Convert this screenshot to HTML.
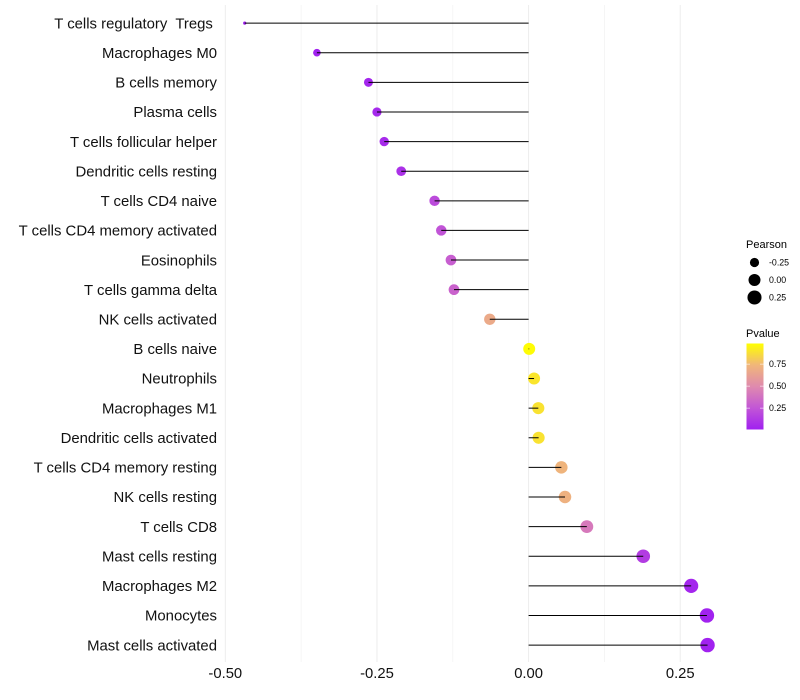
<!DOCTYPE html>
<html>
<head>
<meta charset="utf-8">
<style>
html,body{margin:0;padding:0;background:#fff;width:800px;height:700px;overflow:hidden}
svg{display:block}
text{font-family:"Liberation Sans",sans-serif}
</style>
</head>
<body>
<svg id="chart" width="800" height="700" viewBox="0 0 800 700" xmlns="http://www.w3.org/2000/svg">
<defs>
<linearGradient id="pgrad" x1="0" y1="1" x2="0" y2="0">
<stop offset="0" stop-color="#A020F0"/>
<stop offset="0.25" stop-color="#C256D6"/>
<stop offset="0.5" stop-color="#DF8AAE"/>
<stop offset="0.75" stop-color="#F0B67A"/>
<stop offset="1" stop-color="#FFFF00"/>
</linearGradient>
</defs>
<g id="grid"></g>
<g id="marks"></g>
<g id="ylabels"></g>
<g id="xlabels"></g>
<g id="legend-size">
<text x="746" y="248" font-size="11" fill="#000">Pearson</text>
</g>
<g id="legend-color">
<text x="746" y="337" font-size="11" fill="#000">Pvalue</text>
<rect x="746.5" y="343.5" width="17" height="86" fill="url(#pgrad)"/>
</g>
</svg>
<script>
const categories = ["T cells regulatory  Tregs ","Macrophages M0","B cells memory","Plasma cells","T cells follicular helper","Dendritic cells resting","T cells CD4 naive","T cells CD4 memory activated","Eosinophils","T cells gamma delta","NK cells activated","B cells naive","Neutrophils","Macrophages M1","Dendritic cells activated","T cells CD4 memory resting","NK cells resting","T cells CD8","Mast cells resting","Macrophages M2","Monocytes","Mast cells activated"];
const pearson = [-0.468,-0.349,-0.264,-0.250,-0.238,-0.210,-0.155,-0.144,-0.128,-0.123,-0.064,0.001,0.009,0.016,0.0165,0.054,0.060,0.096,0.189,0.268,0.294,0.295];
const pvalue = [0.001,0.01,0.03,0.04,0.05,0.08,0.2,0.24,0.29,0.31,0.68,0.99,0.91,0.9,0.9,0.74,0.72,0.42,0.13,0.03,0.01,0.01];
const xTicks = [-0.50,-0.25,0.00,0.25];
const xTickLabels = ["-0.50","-0.25","0.00","0.25"];
const xMinorTicks = [-0.375,-0.125,0.125];
const sizeLegendValues = [-0.25,0,0.25];
const sizeLegendLabels = ["-0.25","0.00","0.25"];
const colorLegendValues = [0.25,0.5,0.75];
const colorLegendLabels = ["0.25","0.50","0.75"];

const NS = "http://www.w3.org/2000/svg";
function xScale(v){ return 528.6 + v * 606.6; }
function yScale(i){ return 23.1 + i * (622 / 21); }
function pearsonExtent(){ return [Math.min.apply(null, pearson), Math.max.apply(null, pearson)]; }
function rScale(v){
  const e = pearsonExtent();
  const t = Math.max(0, Math.min(1, (v - e[0]) / (e[1] - e[0])));
  return 1.6 + 5.6 * Math.sqrt(t);
}
function colorScale(p){
  const pos = [0,0.25,0.5,0.75,1];
  const cols = [[160,32,240],[194,86,214],[223,138,174],[240,182,122],[255,255,0]];
  let k = 0;
  while (k < pos.length - 2 && p > pos[k + 1]) k++;
  const t = (p - pos[k]) / (pos[k + 1] - pos[k]);
  const c = cols[k].map(function(a, j){ return Math.round(a + (cols[k + 1][j] - a) * t); });
  return "rgb(" + c.join(",") + ")";
}
function colorLegendY(p){ return 408.2 - (p - 0.25) * 88; }
function make(tag, attrs, parent){
  const el = document.createElementNS(NS, tag);
  Object.keys(attrs).forEach(function(k){ el.setAttribute(k, attrs[k]); });
  parent.appendChild(el);
  return el;
}

const grid = document.getElementById("grid");
xMinorTicks.forEach(function(v){
  const l = make("line", {x1:xScale(v), x2:xScale(v), y1:5, y2:662, stroke:"#F3F3F3", "stroke-width":0.8}, grid);
  
  
});
xTicks.forEach(function(v){
  const l = make("line", {x1:xScale(v), x2:xScale(v), y1:5, y2:662, stroke:"#EDEDED", "stroke-width":1}, grid);
  
  
});

const marks = document.getElementById("marks");
categories.forEach(function(c, i){
  const dot = make("circle", {cx:xScale(pearson[i]), cy:yScale(i), r:rScale(pearson[i]), fill:colorScale(pvalue[i])}, marks);
  
  
  const stem = make("line", {x1:xScale(0), x2:xScale(pearson[i]), y1:yScale(i), y2:yScale(i), stroke:"#000", "stroke-width":1}, marks);
  
  
});

const ylabels = document.getElementById("ylabels");
categories.forEach(function(c, i){
  const t = make("text", {x:217, y:yScale(i) + 5.2, "text-anchor":"end", "font-size":14.9, fill:"#111"}, ylabels);
  t.setAttribute('xml:space', 'preserve');
  t.style.whiteSpace = "pre";
  t.textContent = c;
  
  
});

const xlabels = document.getElementById("xlabels");
xTicks.forEach(function(v, i){
  const t = make("text", {x:xScale(v), y:678, "text-anchor":"middle", "font-size":14.8, fill:"#111"}, xlabels);
  t.textContent = xTickLabels[i];
  
  
});

const legendSize = document.getElementById("legend-size");
sizeLegendValues.forEach(function(v, i){
  const y = 262.5 + i * 17.5;
  const d = make("circle", {cx:754.5, cy:y, r:rScale(v), fill:"#000"}, legendSize);
  
  
  const t = make("text", {x:769, y:y + 3, "font-size":8.8, fill:"#000"}, legendSize);
  t.textContent = sizeLegendLabels[i];
  
  
});

const legendColor = document.getElementById("legend-color");
colorLegendValues.forEach(function(v, i){
  const y = colorLegendY(v);
  const a = make("line", {x1:746.5, x2:750, y1:y, y2:y, stroke:"#fff", "stroke-opacity":0.55, "stroke-width":1}, legendColor);
  
  
  const b = make("line", {x1:760, x2:763.5, y1:y, y2:y, stroke:"#fff", "stroke-opacity":0.55, "stroke-width":1}, legendColor);
  
  
  const t = make("text", {x:769, y:y + 3, "font-size":8.8, fill:"#000"}, legendColor);
  t.textContent = colorLegendLabels[i];
  
  
});
</script>
</body>
</html>
